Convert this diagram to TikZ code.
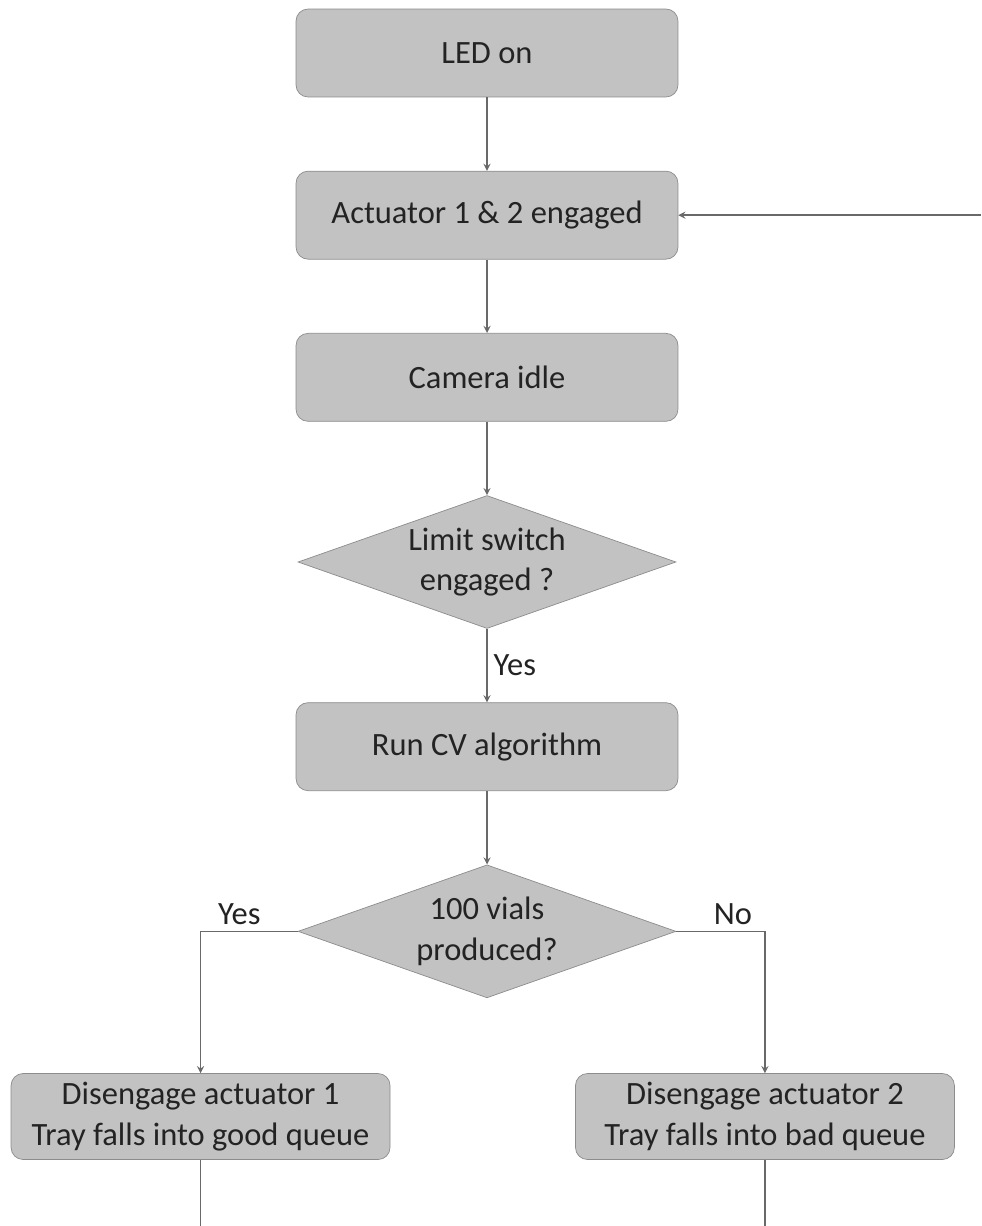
\documentclass[tikz,border=0pt]{standalone}
\definecolor{boxfill}{RGB}{194,194,194}
\definecolor{boxline}{RGB}{140,140,140}
\definecolor{linegray}{RGB}{105,105,105}
\definecolor{textgray}{RGB}{35,35,35}
\usepackage{fontspec}
\setmainfont{Carlito}
\usepackage{tikz}
\usetikzlibrary{shapes,arrows,positioning}

\begin{document}
\begin{tikzpicture}[
        x=0.02cm, y=-0.02cm,
        node distance=1.47cm,
        box/.style={rectangle, rounded corners=0.24cm, draw=boxline, fill=boxfill, minimum width=7.64cm, minimum height=1.76cm, align=center, text=textgray, font=\fontsize{18.5}{23}\selectfont},
        dbox/.style={box, minimum width=7.58cm, minimum height=1.72cm},
        dec/.style={diamond, aspect=2.8, inner sep=0pt, draw=boxline, fill=boxfill, minimum width=7.56cm, minimum height=2.66cm, align=center, text=textgray, font=\fontsize{18.5}{23}\selectfont},
        lbl/.style={text=textgray, font=\fontsize{18.5}{22}\selectfont},
        line/.style={draw=linegray, line width=0.8pt},
        arrow/.style={line, ->, >=stealth}
    ]
        \useasboundingbox (0,0) rectangle (981,1226);
        \node[box] (led) at (487,53) {LED on};
        \node[box, below=of led] (act) {Actuator 1 \& 2 engaged};
        \node[box, below=of act] (cam) {Camera idle};
        \node[dec, below=of cam] (limit) {Limit switch\\engaged ?};
        \node[box, below=of limit] (runcv) {Run CV algorithm};
        \node[dec, below=of runcv] (vials) {100 vials\\produced?};
        \node[dbox, below=1.5cm of vials, xshift=-5.73cm] (good) {Disengage actuator 1\\Tray falls into good queue};
        \node[dbox, below=1.5cm of vials, xshift=5.56cm] (bad) {Disengage actuator 2\\Tray falls into bad queue};
        \coordinate (rim) at (981,0);
        \coordinate (edge) at (0,1226);
        \draw[arrow] (led) -- (act);
        \draw[arrow] (act) -- (cam);
        \draw[arrow] (cam) -- (limit);
        \draw[arrow] (limit) -- node[lbl, right]{Yes} (runcv);
        \draw[arrow] (runcv) -- (vials);
        \draw[arrow] (vials.west) -| node[lbl, above, pos=0.3]{Yes} (good);
        \draw[arrow] (vials.east) -| node[lbl, above, pos=0.32]{No} (bad);
        \draw[arrow] (rim |- act.east) -- (act.east);
        \draw[line] (good) -- (good |- edge);
        \draw[line] (bad) -- (bad |- edge);
    \end{tikzpicture}
\end{document}
